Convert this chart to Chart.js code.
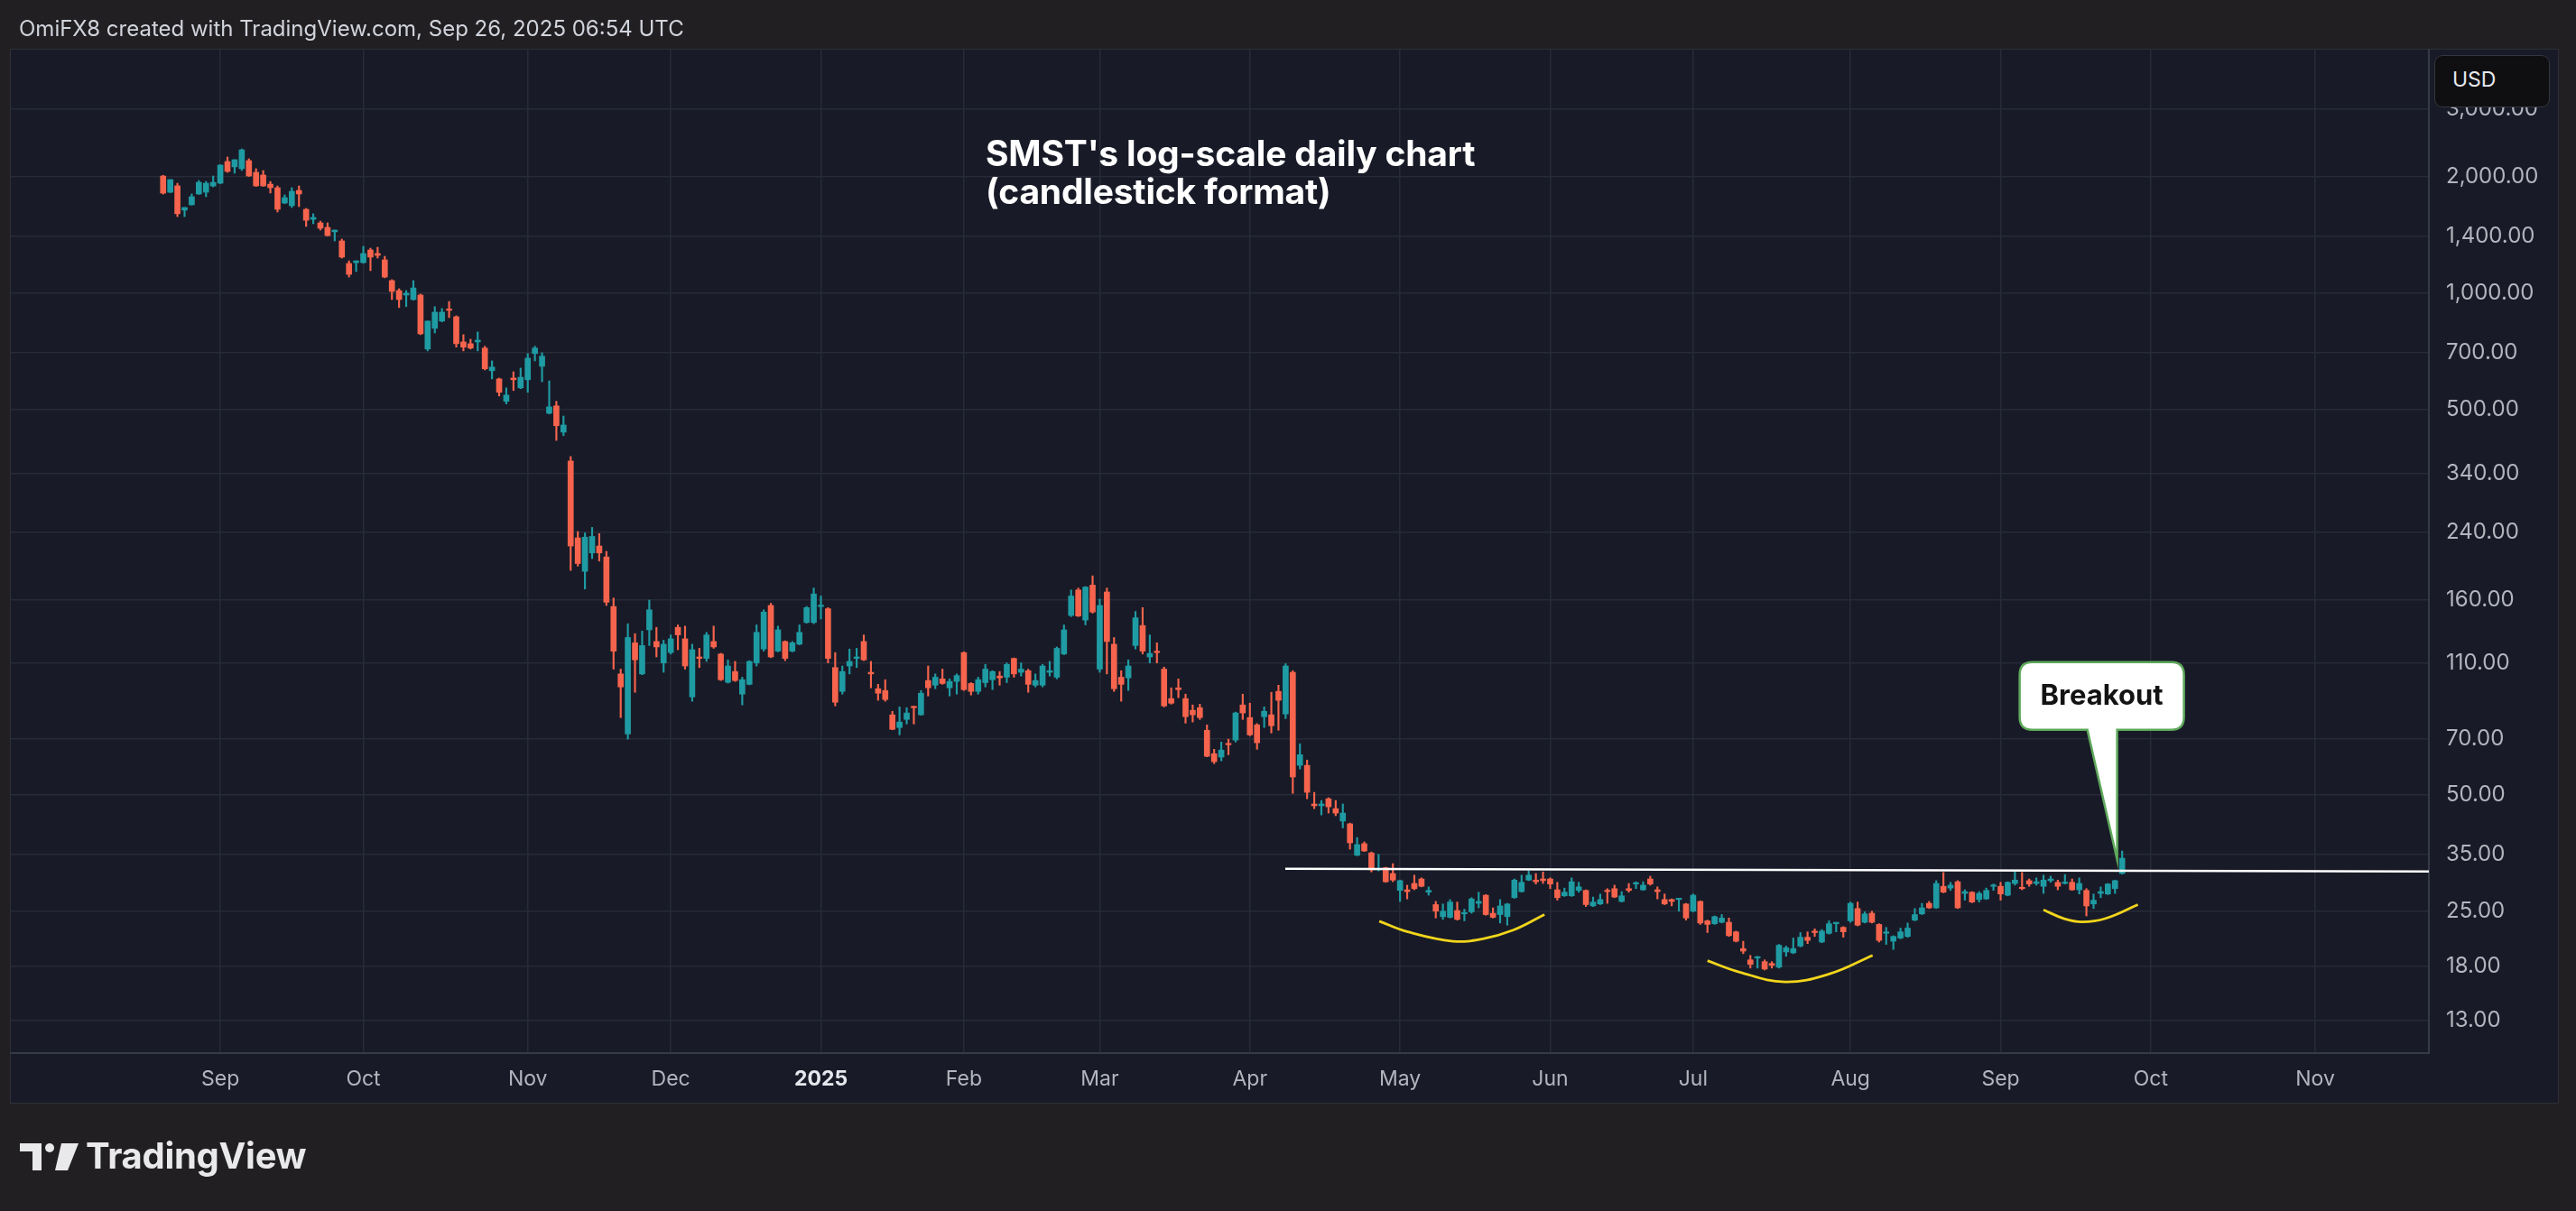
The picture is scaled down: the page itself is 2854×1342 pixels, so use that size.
<!DOCTYPE html>
<html>
<head>
<meta charset="utf-8">
<title>SMST log-scale daily chart</title>
<script src="https://cdn.jsdelivr.net/npm/chart.js@4.4.1/dist/chart.umd.min.js"></script>
<style>
  html, body { margin: 0; padding: 0; width: 2854px; height: 1342px; overflow: hidden; background: #211f22; font-family: Inter, "Noto Sans", sans-serif; }
  #panel { position: absolute; left: 11px; top: 54px; width: 2822px; height: 1167px; background: #181b27; border: 1px solid #2e2f37; }
  #chart { position: absolute; left: 0; top: 0; }
  #header { position: absolute; left: 21px; top: 18px; font-size: 24px; line-height: 28px; color: #d1d4dc; white-space: nowrap; }
  #title { position: absolute; left: 1092px; top: 149px; font-size: 39px; line-height: 42px; font-weight: 700; color: #ffffff; white-space: nowrap; letter-spacing: -0.2px; }
  #usd { position: absolute; left: 2697px; top: 61px; width: 128px; height: 58px; box-sizing: border-box; background: #0f0f12; border: 1px solid #34363e; border-radius: 9px; color: #e6e8ee; font-size: 23px; line-height: 52px; padding-left: 19px; }
  #brand { position: absolute; left: 22px; top: 1261px; height: 44px; color: #e9e9ec; white-space: nowrap; }
  #brand svg { position: absolute; left: 0; top: 5px; }
  #brand span { position: absolute; left: 73px; top: 0; font-size: 40px; line-height: 40px; font-weight: 700; letter-spacing: -0.3px; }
</style>
</head>
<body>
<div id="panel"></div>
<canvas id="chart" width="2854" height="1342"></canvas>
<div id="header">OmiFX8 created with TradingView.com, Sep 26, 2025 06:54 UTC</div>
<div id="title">SMST's log-scale daily chart<br>(candlestick format)</div>
<div id="usd">USD</div>
<div id="brand">
  <svg width="66" height="32" viewBox="0 0 66 32">
    <path d="M0 1H24V31H14V10H0Z" fill="#e9e9ec"/>
    <circle cx="33" cy="6" r="5" fill="#e9e9ec"/>
    <path d="M46 1H65L53 31H39Z" fill="#e9e9ec"/>
  </svg>
  <span>TradingView</span>
</div>
<script>
// trading-day index of the first candle (0 = first session of Sep 2024)
const firstIndex = -8;

const candleOpen = [
  2010, 1825, 1896, 1640, 1693, 1806, 1825, 1894, 1926, 2192,
  2123, 2100, 2204, 2055, 2022, 1915, 1875, 1711, 1684, 1845,
  1648, 1553, 1520, 1480, 1441, 1365, 1193, 1199, 1199, 1293,
  1266, 1219, 1077, 1015, 988, 962, 988, 716, 810, 846,
  907, 868, 747, 739, 747, 720, 629, 599, 524, 602,
  568, 596, 697, 646, 488, 510, 436, 367, 232, 190,
  212, 221, 207, 154, 103, 72, 124, 103, 134, 125,
  110, 117, 136, 127, 89.8, 114, 113, 125, 116, 98,
  104.5, 91.3, 96.8, 110, 119.5, 155, 118, 125, 118, 123,
  140, 140, 154, 152, 107, 92.8, 108, 113, 125, 104,
  94.3, 93.3, 80.7, 74.8, 78.5, 84.6, 80.7, 99, 96.3, 100,
  94.8, 98.5, 117, 97.3, 92.8, 97.8, 99.5, 101.7, 101, 113,
  104, 105, 96.3, 96.3, 104, 101, 116, 146, 170, 142,
  175, 106, 168, 123, 101, 100.6, 122, 137.5, 114, 117.5,
  106, 88.9, 94.8, 88.9, 82.9, 84.2, 73.6, 64, 62.7, 67.9,
  69.4, 85.6, 79.4, 76, 79.8, 80.7, 92.8, 81.1, 104, 59.7,
  59.7, 47.4, 46.9, 48.9, 46.1, 42.8, 42.1, 34.9, 37.4, 35.4,
  32.0, 32.4, 31.3, 28.3, 28.4, 29.5, 30.3, 28.0, 26.0, 24.2,
  24.1, 25.1, 24.6, 24.9, 26.2, 27.5, 24.7, 24.5, 24.2, 27.1,
  28.1, 30.1, 30.1, 30.3, 30.3, 28.4, 27.4, 27.4, 28.3, 28.3,
  25.8, 26.1, 28.3, 28.6, 26.5, 28.6, 29.4, 28.4, 30.3, 28.4,
  26.8, 26.8, 26.8, 26.1, 25.0, 26.5, 23.6, 23.2, 23.4, 23.4,
  22.1, 20.0, 18.7, 18.9, 18.5, 18.3, 17.9, 19.6, 19.5, 20.3,
  21.4, 22.2, 20.8, 21.9, 23.2, 22.7, 23.6, 25.4, 23.4, 24.7,
  23.1, 21.9, 20.9, 21.3, 21.5, 23.7, 24.6, 26.2, 25.5, 29.0,
  28.7, 29.8, 27.8, 28.0, 26.8, 26.9, 29.0, 29.0, 27.5, 29.5,
  28.7, 30.0, 29.5, 29.0, 30.0, 29.7, 29.5, 29.7, 28.4, 28.3,
  26.1, 27.8, 27.7, 28.6, 31.3
];

const candleHigh = [
  2020, 1968, 1925, 1666, 1806, 1957, 1946, 2011, 2150, 2252,
  2216, 2363, 2228, 2100, 2077, 1946, 1895, 1796, 1875, 1895,
  1657, 1605, 1536, 1520, 1456, 1380, 1212, 1212, 1321, 1307,
  1314, 1245, 1083, 1026, 1015, 1077, 994, 846, 922, 912,
  951, 873, 780, 759, 793, 728, 667, 602, 568, 625,
  639, 697, 728, 700, 592, 524, 480, 377, 241, 239,
  247, 238, 214, 162, 106, 139, 131, 133, 160, 136,
  126, 130, 138, 137, 123, 120, 132, 137, 116.5, 112,
  111, 101, 111.5, 138, 151, 157, 137, 125.5, 125, 138,
  154, 172, 164, 153, 117, 108, 119.5, 120, 130, 111,
  96.8, 99.5, 82.4, 84.6, 84.2, 85, 93.3, 108, 103, 106,
  100, 103, 117.5, 97.8, 101, 109, 105, 104.5, 110, 113.3,
  110, 106, 103, 109, 111, 121, 138, 170, 172, 173.5,
  185, 161, 172, 128, 105, 112, 149.5, 153, 130, 124,
  107.3, 94.8, 100, 91.3, 85.6, 86, 76, 65.7, 68.6, 69.8,
  82, 91.3, 86.5, 76.6, 84.6, 92.3, 96.3, 109.5, 105, 67.9,
  61.6, 50.8, 48.4, 49.2, 48.4, 47.4, 42.3, 38.8, 37.8, 35.6,
  35.1, 32.5, 33.2, 30.1, 29.2, 31.0, 30.5, 28.9, 26.5, 26.1,
  26.8, 26.4, 25.3, 27.1, 28.0, 27.6, 25.5, 26.8, 26.2, 30.3,
  31.0, 31.8, 31.3, 31.6, 30.5, 29.7, 28.7, 30.5, 29.7, 28.4,
  27.2, 27.7, 28.6, 29.2, 28.1, 29.5, 29.8, 29.8, 30.8, 28.9,
  27.7, 26.9, 27.0, 26.2, 27.7, 26.6, 23.7, 24.3, 24.5, 24.0,
  22.2, 20.9, 19.2, 19.1, 18.7, 18.5, 20.5, 20.3, 21.3, 22.0,
  22.1, 22.5, 22.4, 23.6, 23.4, 22.8, 26.4, 26.4, 24.9, 25.0,
  23.2, 22.7, 21.6, 22.6, 23.3, 25.4, 26.2, 26.5, 30.0, 31.5,
  29.7, 30.0, 28.4, 28.1, 28.1, 28.7, 29.4, 29.7, 29.8, 31.8,
  31.5, 30.3, 30.5, 31.0, 30.8, 30.1, 31.1, 30.3, 30.5, 28.6,
  27.7, 28.9, 29.5, 30.1, 35.8
];

const candleLow = [
  1805, 1820, 1578, 1578, 1690, 1800, 1777, 1884, 1920, 2055,
  2044, 2078, 2005, 1890, 1890, 1816, 1622, 1705, 1666, 1675,
  1488, 1512, 1456, 1405, 1365, 1232, 1100, 1137, 1195, 1143,
  1232, 1095, 962, 917, 922, 958, 780, 708, 788, 842,
  864, 724, 708, 716, 708, 632, 599, 541, 516, 559,
  565, 553, 667, 589, 486, 415, 427, 191, 196, 171,
  205, 202, 155, 106, 79.4, 69.8, 92.3, 102.5, 122, 114,
  104, 116, 119, 106, 87.5, 107, 111, 120, 99, 97.5,
  98.5, 85.6, 96.5, 108, 118, 113.5, 117.5, 111.5, 117.5, 122.5,
  139.5, 139, 143, 110, 85.1, 91.3, 103, 107, 111.5, 94.8,
  88.0, 87.5, 73.8, 71.6, 76.4, 76.4, 80.5, 90.3, 94.3, 96.8,
  90.3, 91.3, 93.3, 90.8, 91.3, 95.3, 93.8, 96.3, 97.8, 101,
  101.7, 92.3, 95.3, 95.3, 101.7, 100, 115.5, 145, 145, 138,
  148, 104, 103, 92.8, 87.5, 93.3, 119.5, 116, 110, 110,
  84.6, 86, 89.4, 76.8, 77.3, 78.5, 62.8, 60.3, 61.3, 63.6,
  68.6, 78.5, 71.2, 65.7, 74.8, 72.4, 73.6, 78.9, 50.5, 58.4,
  48.9, 46.1, 44.4, 44.9, 44.2, 41.1, 36.2, 34.8, 35.7, 31.6,
  31.8, 29.7, 29.8, 26.5, 26.9, 28.4, 28.9, 27.5, 24.0, 23.8,
  24.0, 23.7, 23.6, 24.7, 25.5, 24.4, 24.0, 23.3, 23.0, 27.0,
  28.0, 30.0, 29.4, 29.5, 28.6, 26.7, 27.3, 27.3, 28.0, 25.7,
  25.7, 26.0, 26.2, 27.1, 26.4, 28.0, 28.6, 28.3, 29.2, 26.9,
  26.0, 25.8, 25.0, 23.7, 24.9, 23.1, 22.0, 23.1, 23.3, 21.5,
  20.8, 19.4, 17.8, 17.8, 17.6, 17.8, 17.8, 19.1, 19.4, 20.2,
  20.6, 21.5, 20.7, 21.8, 22.1, 21.4, 23.4, 22.9, 23.3, 23.3,
  20.8, 20.5, 19.9, 21.2, 21.4, 23.6, 24.5, 25.4, 25.4, 27.9,
  28.3, 25.4, 26.7, 26.3, 26.4, 26.8, 28.3, 26.7, 27.4, 29.2,
  28.4, 29.0, 29.2, 27.8, 29.7, 28.4, 29.4, 28.3, 27.7, 24.3,
  25.4, 27.1, 27.6, 27.8, 31.2
];

const candleClose = [
  1815, 1968, 1605, 1666, 1777, 1936, 1926, 1936, 2146, 2066,
  2216, 2350, 2011, 1895, 1895, 1875, 1648, 1767, 1835, 1806,
  1544, 1570, 1472, 1409, 1456, 1239, 1118, 1212, 1266, 1239,
  1252, 1100, 1010, 962, 999, 1031, 784, 846, 892, 892,
  902, 739, 724, 720, 755, 636, 643, 553, 544, 596,
  605, 678, 720, 686, 507, 453, 455, 221, 199, 233,
  234, 212, 158, 118, 95.3, 128, 112, 122, 151, 121,
  123, 127, 130, 108, 119, 113, 130, 121, 99.5, 108,
  99, 99.5, 111, 132, 149, 114, 134, 113, 124, 132,
  153, 166, 155, 113, 87, 104.5, 111, 114, 112, 103,
  91.8, 88.4, 74.0, 77.3, 81.6, 84.2, 91.8, 94.8, 101, 97.3,
  98.5, 102, 93.8, 92.8, 99.5, 106, 104.5, 100.6, 109, 103,
  106, 96.8, 99, 108, 105, 120, 134, 164, 145.5, 173,
  149, 155, 125, 94.3, 96.8, 108, 144, 118, 116.4, 117,
  85.1, 86.5, 93.8, 79.8, 80.7, 79.4, 63, 61, 65.4, 67.5,
  81.6, 81.6, 71.6, 68.3, 82.4, 75.6, 88, 108, 55.7, 63.6,
  50.8, 46.9, 47.4, 46.6, 44.9, 44.9, 37.6, 37.2, 35.8, 32.0,
  32.2, 29.8, 30.1, 30.0, 28.1, 28.6, 29.0, 28.3, 25.0, 25.0,
  26.4, 23.8, 24.7, 26.9, 26.5, 24.5, 24.1, 25.8, 26.1, 30.1,
  29.7, 31.0, 29.8, 30.0, 29.4, 27.1, 28.0, 29.8, 28.9, 26.0,
  26.4, 26.8, 28.1, 27.2, 27.4, 28.3, 29.5, 29.2, 29.4, 28.1,
  26.1, 26.5, 26.9, 24.0, 27.5, 23.3, 23.1, 24.2, 24.0, 21.6,
  20.9, 19.7, 18.2, 19.0, 17.7, 18.1, 20.4, 20.1, 20.0, 21.4,
  21.0, 22.0, 22.2, 23.2, 23.3, 22.1, 26.2, 23.0, 24.6, 23.4,
  21.0, 22.1, 21.5, 22.1, 22.6, 24.5, 25.5, 25.5, 29.5, 28.0,
  29.2, 25.5, 28.1, 26.4, 27.8, 28.3, 29.2, 27.7, 29.7, 30.1,
  28.6, 29.4, 29.8, 30.1, 30.3, 29.0, 29.7, 28.4, 29.5, 25.8,
  26.7, 28.1, 29.4, 30.0, 34.3
];

// first session of each month, as trading-day index
const monthTicks = [0, 20, 43, 63, 84, 104, 123, 144, 165, 186, 206, 228, 249, 270, 293];
const monthLabels = ["Sep", "Oct", "Nov", "Dec", "2025", "Feb", "Mar", "Apr", "May", "Jun", "Jul", "Aug", "Sep", "Oct", "Nov"];
const priceTicks = [3000, 2000, 1400, 1000, 700, 500, 340, 240, 160, 110, 70, 50, 35, 25, 18, 13];

// drawings: [trading-day index, price]
const resistanceLine = [[148.95, 32.2], [309.5, 31.7]];
const smileA = [[162.1, 23.55], [166.1, 22.1], [172.4, 20.9], [176.6, 21.2], [180.9, 22.35], [185.2, 24.5]];
const smileB = [[208.0, 18.6], [212.4, 17.4], [218.8, 16.4], [225.1, 17.2], [231.1, 19.2]];
const smileC = [[255.0, 25.2], [257.9, 23.9], [260.4, 23.45], [263.7, 23.95], [268.2, 26.0]];
const breakoutTip = [265.3, 34.0];

const UP = "#1f9ba3";
const DOWN = "#f6644d";
const GRID = "#272b37";
const SEP = "#363a45";

const xs = candleOpen.map((_, k) => firstIndex + k);
const colors = candleOpen.map((o, k) => (candleClose[k] >= o ? UP : DOWN));

function toPoints(arr) {
  return arr.map((p) => ({ x: p[0], y: p[1] }));
}

function priceLabel(v) {
  return Number(v).toLocaleString("en-US", { minimumFractionDigits: 2, maximumFractionDigits: 2 });
}

function smileDataset(points) {
  return {
    type: "line",
    data: toPoints(points),
    borderColor: "#f2d51c",
    borderWidth: 2.8,
    pointRadius: 0,
    tension: 0.4,
    order: 0,
  };
}

const calloutPlugin = {
  id: "callout",
  afterDatasetsDraw(chart) {
    const { ctx, scales } = chart;
    const tx = scales.x.getPixelForValue(breakoutTip[0]);
    const ty = scales.y.getPixelForValue(breakoutTip[1]);
    const left = tx - 108, right = tx + 74, top = ty - 219, bottom = ty - 144, r = 14;
    ctx.save();
    ctx.beginPath();
    ctx.moveTo(left + r, top);
    ctx.lineTo(right - r, top);
    ctx.quadraticCurveTo(right, top, right, top + r);
    ctx.lineTo(right, bottom - r);
    ctx.quadraticCurveTo(right, bottom, right - r, bottom);
    ctx.lineTo(tx, bottom);
    ctx.lineTo(tx, ty);
    ctx.lineTo(tx - 33, bottom);
    ctx.lineTo(left + r, bottom);
    ctx.quadraticCurveTo(left, bottom, left, bottom - r);
    ctx.lineTo(left, top + r);
    ctx.quadraticCurveTo(left, top, left + r, top);
    ctx.closePath();
    ctx.fillStyle = "#ffffff";
    ctx.fill();
    ctx.strokeStyle = "#5ea85b";
    ctx.lineWidth = 2.5;
    ctx.stroke();
    ctx.fillStyle = "#131313";
    ctx.font = "bold 31px Inter";
    ctx.textAlign = "center";
    ctx.textBaseline = "middle";
    ctx.fillText("Breakout", (left + right) / 2, (top + bottom) / 2 + 1);
    ctx.restore();
  },
};

new Chart(document.getElementById("chart").getContext("2d"), {
  type: "bar",
  data: {
    datasets: [
      {
        label: "body",
        data: xs.map((x, k) => ({ x: x, y: [candleOpen[k], candleClose[k]] })),
        backgroundColor: colors,
        barThickness: 6,
        minBarLength: 1.5,
        grouped: false,
        order: 1,
      },
      {
        label: "wick",
        data: xs.map((x, k) => ({ x: x, y: [candleLow[k], candleHigh[k]] })),
        backgroundColor: colors,
        barThickness: 1.5,
        grouped: false,
        order: 2,
      },
      {
        type: "line",
        data: toPoints(resistanceLine),
        borderColor: "#ffffff",
        borderWidth: 2.5,
        pointRadius: 0,
        order: 0,
      },
      smileDataset(smileA),
      smileDataset(smileB),
      smileDataset(smileC),
    ],
  },
  options: {
    responsive: false,
    animation: false,
    devicePixelRatio: 1,
    layout: { padding: { left: 12, top: 55, right: 20, bottom: 121 } },
    plugins: { legend: { display: false }, tooltip: { enabled: false } },
    scales: {
      x: {
        type: "linear",
        min: -29.3,
        max: 308.9,
        offset: false,
        grid: { color: GRID, lineWidth: 1.6, drawTicks: false, offset: false },
        border: { display: true, color: SEP, width: 2 },
        afterBuildTicks: (scale) => {
          scale.ticks = monthTicks.map((v) => ({ value: v }));
        },
        afterFit: (scale) => {
          scale.height = 54;
        },
        ticks: {
          autoSkip: false,
          maxRotation: 0,
          padding: 15,
          callback: (v) => monthLabels[monthTicks.indexOf(v)],
          color: (c) => (c.tick && c.tick.value === 84 ? "#e6e8ee" : "#b2b5be"),
          font: (c) => ({ family: "Inter", size: 23, weight: c.tick && c.tick.value === 84 ? "bold" : "normal" }),
        },
      },
      y: {
        type: "logarithmic",
        position: "right",
        min: 10.72,
        max: 4274,
        grid: { color: GRID, lineWidth: 1.6, drawTicks: false },
        border: { display: true, color: SEP, width: 2 },
        afterBuildTicks: (scale) => {
          scale.ticks = priceTicks.map((v) => ({ value: v }));
        },
        afterFit: (scale) => {
          scale.width = 143;
        },
        ticks: {
          autoSkip: false,
          padding: 19,
          color: "#b2b5be",
          font: { family: "Inter", size: 24 },
          callback: (v) => priceLabel(v),
        },
      },
    },
  },
  plugins: [calloutPlugin],
});
</script>
</body>
</html>
